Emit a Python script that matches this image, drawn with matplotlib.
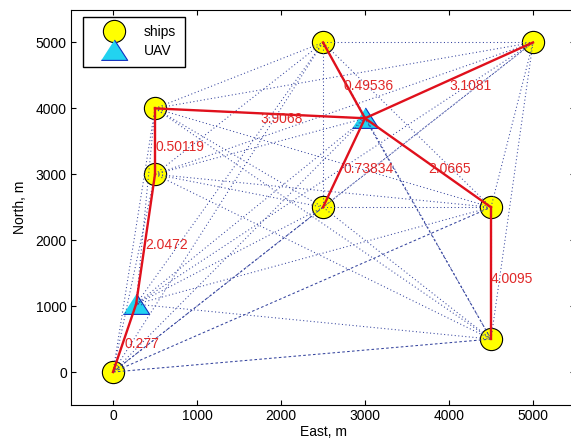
import matplotlib
matplotlib.use("Agg")
import matplotlib.pyplot as plt

plt.rcParams['font.family'] = ['Liberation Sans', 'DejaVu Sans']
plt.rcParams['font.size'] = 10

# ship and UAV positions (m)
ship_x = [0, 500, 500, 2500, 2500, 4500, 4500, 5000]
ship_y = [0, 3000, 4000, 5000, 2500, 2500, 500, 5000]
uav_x = [275, 3000]
uav_y = [1030, 3850]

# red route links (node index: ships 0-7, UAVs 8-9) and their labels
route_pairs = [(0, 8), (8, 1), (1, 2), (2, 9), (9, 3), (9, 7), (9, 4), (9, 5), (5, 6)]
route_labels = ['0.277', '2.0472', '0.50119', '3.9068', '0.49536', '3.1081',
                '0.73834', '2.0665', '4.0095']

# links that show up as dashed rather than dotted
dashed_pairs = [(0, 4), (0, 5), (0, 6), (6, 9)]

node_x = ship_x + uav_x
node_y = ship_y + uav_y

fig = plt.figure(figsize=(5.71, 4.47), dpi=100)
ax = fig.add_axes([71 / 571, 42 / 447, 504 / 571, 395.5 / 447])

ship_h, = ax.plot(ship_x, ship_y, 'o', ms=16, mfc='yellow', mec='k', mew=0.8, zorder=2)
tri = [(-1, -0.75), (1, -0.75), (0, 0.8)]
uav_h, = ax.plot(uav_x, uav_y, marker=tri, ls='none', ms=19, mfc='#22d3f0', mec='#1030c0',
                 mew=0.8, zorder=2)

# every pair of nodes is linked by a faint blue line
n = len(node_x)
for i in range(n):
    for j in range(i + 1, n):
        if (i, j) in dashed_pairs:
            ls = (0, (2.5, 2.2))
        else:
            ls = (0, (1, 2.4))
        ax.plot([node_x[i], node_x[j]], [node_y[i], node_y[j]], color='#35449e',
                lw=0.75, ls=ls, zorder=3)

for (a, b), lab in zip(route_pairs, route_labels):
    ax.plot([node_x[a], node_x[b]], [node_y[a], node_y[b]], color='#e0101c', lw=1.7, zorder=4)
    mx = (node_x[a] + node_x[b]) / 2
    my = (node_y[a] + node_y[b]) / 2
    ax.annotate(lab, xy=(mx, my), xytext=(0, -6), textcoords='offset pixels',
                color='#e02828', ha='left', va='center', fontsize=10, zorder=5)

ax.set_xlim(-500, 5500)
ax.set_ylim(-500, 5500)
ax.set_xticks([0, 1000, 2000, 3000, 4000, 5000])
ax.set_yticks([0, 1000, 2000, 3000, 4000, 5000])
ax.tick_params(direction='in', top=True, right=True, length=3.5, width=0.8, pad=3)
for s in ax.spines.values():
    s.set_linewidth(0.8)
ax.set_xlabel('East, m', labelpad=1)
ax.set_ylabel('North, m', labelpad=6)

ax.legend([ship_h, uav_h], ['ships', 'UAV'], loc='upper left',
          bbox_to_anchor=(12 / 504, 1 - 7.5 / 395.5), borderaxespad=0,
          fancybox=False, edgecolor='k', framealpha=1, borderpad=0.6,
          handlelength=3.2, handletextpad=0.6, labelspacing=0.35, numpoints=1)

fig.savefig('out.png', dpi=100)
